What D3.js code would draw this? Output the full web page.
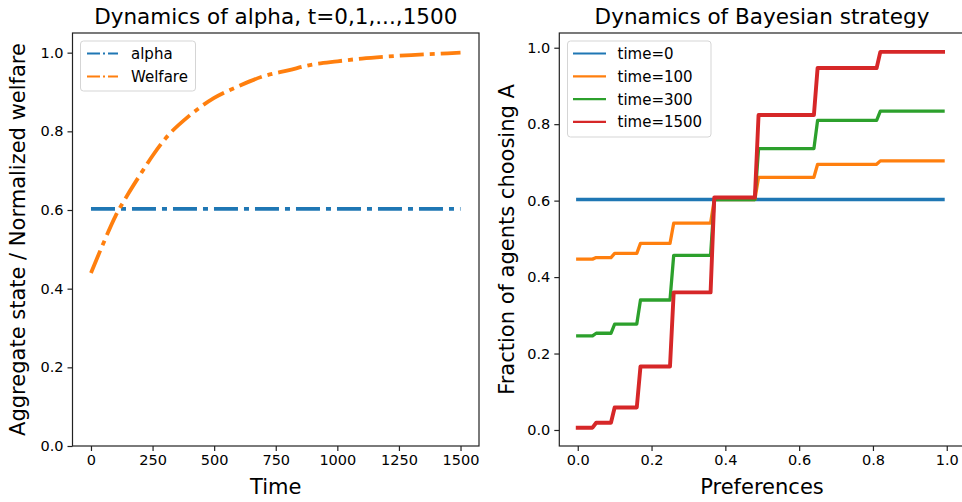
<!DOCTYPE html>
<html>
<head>
<meta charset="utf-8">
<script src="https://cdn.jsdelivr.net/npm/d3@7"></script>
<style>
  body { margin: 0; background: #fff; }
  text { font-family: "DejaVu Sans", sans-serif; fill: #000; }
</style>
</head>
<body>
<div id="chart"></div>
<script>
// left panel: aggregate state and welfare over time
var timeSteps = [0, 50, 100, 150, 200, 250, 300, 400, 500, 600, 700, 800, 900, 1000, 1100, 1200, 1300, 1400, 1500];
var welfare   = [0.44, 0.515, 0.585, 0.64, 0.69, 0.738, 0.78, 0.84, 0.885, 0.915, 0.94, 0.955, 0.97, 0.978, 0.985, 0.99, 0.994, 0.997, 1.0];
var alphaLevel = 0.603;
var timeTicks = [0, 250, 500, 750, 1000, 1250, 1500];

// right panel: step curves over preferences
var prefBreaks = [0, 0.04, 0.05, 0.09, 0.10, 0.16, 0.17, 0.25, 0.26, 0.36, 0.37, 0.48, 0.49, 0.64, 0.65, 0.81, 0.82, 0.99];
var levelsT0    = [0.603, 0.603, 0.603, 0.603, 0.603, 0.603, 0.603, 0.603, 0.603];
var levelsT100  = [0.447, 0.451, 0.462, 0.488, 0.541, 0.603, 0.661, 0.695, 0.704];
var levelsT300  = [0.246, 0.253, 0.277, 0.340, 0.457, 0.603, 0.736, 0.810, 0.834];
var levelsT1500 = [0.006, 0.019, 0.059, 0.166, 0.360, 0.608, 0.824, 0.947, 0.989];
var seriesNames = ["time=0", "time=100", "time=300", "time=1500"];
var unitTicks = [0, 0.2, 0.4, 0.6, 0.8, 1.0];

var colors = ["#1f77b4", "#ff7f0e", "#2ca02c", "#d62728"];

var width = 962, height = 502;
var svg = d3.select("#chart").append("svg")
    .attr("width", width)
    .attr("height", height);

var fmt1 = d3.format(".1f");

function drawFrame(g, x0, x1, y0, y1) {
    g.append("rect")
        .attr("x", x0).attr("y", y0)
        .attr("width", x1 - x0).attr("height", y1 - y0)
        .attr("fill", "none")
        .attr("stroke", "#222")
        .attr("stroke-width", 1.2);
}

function styleAxis(sel) {
    sel.select(".domain").remove();
    sel.selectAll(".tick line").attr("stroke", "#222").attr("stroke-width", 1.2);
    sel.selectAll(".tick text")
        .style("font-family", "DejaVu Sans, sans-serif")
        .style("font-size", "14.5px")
        .attr("fill", "#000");
}

// ---------- left panel ----------
var xL = d3.scaleLinear().domain([-75, 1575]).range([72.5, 479]);
var yL = d3.scaleLinear().domain([0, 1.05]).range([446, 33]);

var left = svg.append("g");

var lineL = d3.line()
    .x(function(d) { return xL(d[0]); })
    .y(function(d) { return yL(d[1]); })
    .curve(d3.curveMonotoneX);

left.append("path")
    .datum([[timeSteps[0], alphaLevel], [timeSteps[timeSteps.length - 1], alphaLevel]])
    .attr("d", lineL)
    .attr("fill", "none")
    .attr("stroke", colors[0])
    .attr("stroke-width", 3.8)
    .attr("stroke-dasharray", "24,6,5,6");

left.append("path")
    .datum(timeSteps.map(function(t, i) { return [t, welfare[i]]; }))
    .attr("d", lineL)
    .attr("fill", "none")
    .attr("stroke", colors[1])
    .attr("stroke-width", 3.8)
    .attr("stroke-dasharray", "24,6,5,6");

left.append("g")
    .attr("transform", "translate(0,446)")
    .call(d3.axisBottom(xL).tickValues(timeTicks).tickFormat(d3.format("d")).tickSize(5).tickSizeOuter(0).tickPadding(4))
    .call(styleAxis);

left.append("g")
    .attr("transform", "translate(72.5,0)")
    .call(d3.axisLeft(yL).tickValues(unitTicks).tickFormat(fmt1).tickSize(5).tickSizeOuter(0).tickPadding(4))
    .call(styleAxis);

drawFrame(left, 72.5, 479, 33, 446);

left.append("text")
    .attr("x", (72.5 + 479) / 2).attr("y", 24)
    .attr("text-anchor", "middle")
    .style("font-size", "21.5px")
    .text("Dynamics of alpha, t=0,1,...,1500");

left.append("text")
    .attr("x", (72.5 + 479) / 2).attr("y", 494)
    .attr("text-anchor", "middle")
    .style("font-size", "21px")
    .text("Time");

left.append("text")
    .attr("transform", "translate(25,239.5) rotate(-90)")
    .attr("text-anchor", "middle")
    .style("font-size", "21px")
    .text("Aggregate state / Normalized welfare");

// legend (left)
var legL = left.append("g");
legL.append("rect")
    .attr("x", 80.5).attr("y", 41).attr("width", 115).attr("height", 50)
    .attr("rx", 3)
    .attr("fill", "#fff").attr("fill-opacity", 0.8)
    .attr("stroke", "#d5d5d5");
["alpha", "Welfare"].forEach(function(name, i) {
    var yy = 53.5 + i * 23;
    legL.append("line")
        .attr("x1", 87).attr("x2", 118)
        .attr("y1", yy).attr("y2", yy)
        .attr("stroke", colors[i])
        .attr("stroke-width", 2)
        .attr("stroke-dasharray", "13,3,2,3");
    legL.append("text")
        .attr("x", 131).attr("y", yy + 5.5)
        .style("font-size", "15px")
        .text(name);
});

// ---------- right panel ----------
var xR = d3.scaleLinear().domain([-0.05, 1.05]).range([559.3, 965.2]);
var yR = d3.scaleLinear().domain([-0.0419, 1.0385]).range([446, 33]);

var right = svg.append("g");

var lineR = d3.line()
    .x(function(d) { return xR(d[0]); })
    .y(function(d) { return yR(d[1]); });

function stepPoints(levels) {
    return prefBreaks.map(function(p, j) { return [p, levels[Math.floor(j / 2)]]; });
}

var allLevels = [levelsT0, levelsT100, levelsT300, levelsT1500];
var widthsR = [3.3, 3.3, 3.3, 3.9];

allLevels.forEach(function(levels, i) {
    right.append("path")
        .datum(stepPoints(levels))
        .attr("d", lineR)
        .attr("fill", "none")
        .attr("stroke", colors[i])
        .attr("stroke-width", widthsR[i])
        .attr("stroke-linecap", "square")
        .attr("stroke-linejoin", "round");
});

right.append("g")
    .attr("transform", "translate(0,446)")
    .call(d3.axisBottom(xR).tickValues(unitTicks).tickFormat(fmt1).tickSize(5).tickSizeOuter(0).tickPadding(4))
    .call(styleAxis);

right.append("g")
    .attr("transform", "translate(559.3,0)")
    .call(d3.axisLeft(yR).tickValues(unitTicks).tickFormat(fmt1).tickSize(5).tickSizeOuter(0).tickPadding(4))
    .call(styleAxis);

drawFrame(right, 559.3, 965.2, 33, 446);

right.append("text")
    .attr("x", 762).attr("y", 24)
    .attr("text-anchor", "middle")
    .style("font-size", "21.5px")
    .text("Dynamics of Bayesian strategy");

right.append("text")
    .attr("x", 762).attr("y", 494)
    .attr("text-anchor", "middle")
    .style("font-size", "21px")
    .text("Preferences");

right.append("text")
    .attr("transform", "translate(514,239.5) rotate(-90)")
    .attr("text-anchor", "middle")
    .style("font-size", "21px")
    .text("Fraction of agents choosing A");

// legend (right)
var legR = right.append("g");
legR.append("rect")
    .attr("x", 567.5).attr("y", 41).attr("width", 143.5).attr("height", 96)
    .attr("rx", 3)
    .attr("fill", "#fff").attr("fill-opacity", 0.8)
    .attr("stroke", "#d5d5d5");
seriesNames.forEach(function(name, i) {
    var yy = 53.5 + i * 22.8;
    legR.append("line")
        .attr("x1", 573).attr("x2", 606)
        .attr("y1", yy).attr("y2", yy)
        .attr("stroke", colors[i])
        .attr("stroke-width", 2.2);
    legR.append("text")
        .attr("x", 617.5).attr("y", yy + 5.5)
        .style("font-size", "15px")
        .text(name);
});
</script>
</body>
</html>
